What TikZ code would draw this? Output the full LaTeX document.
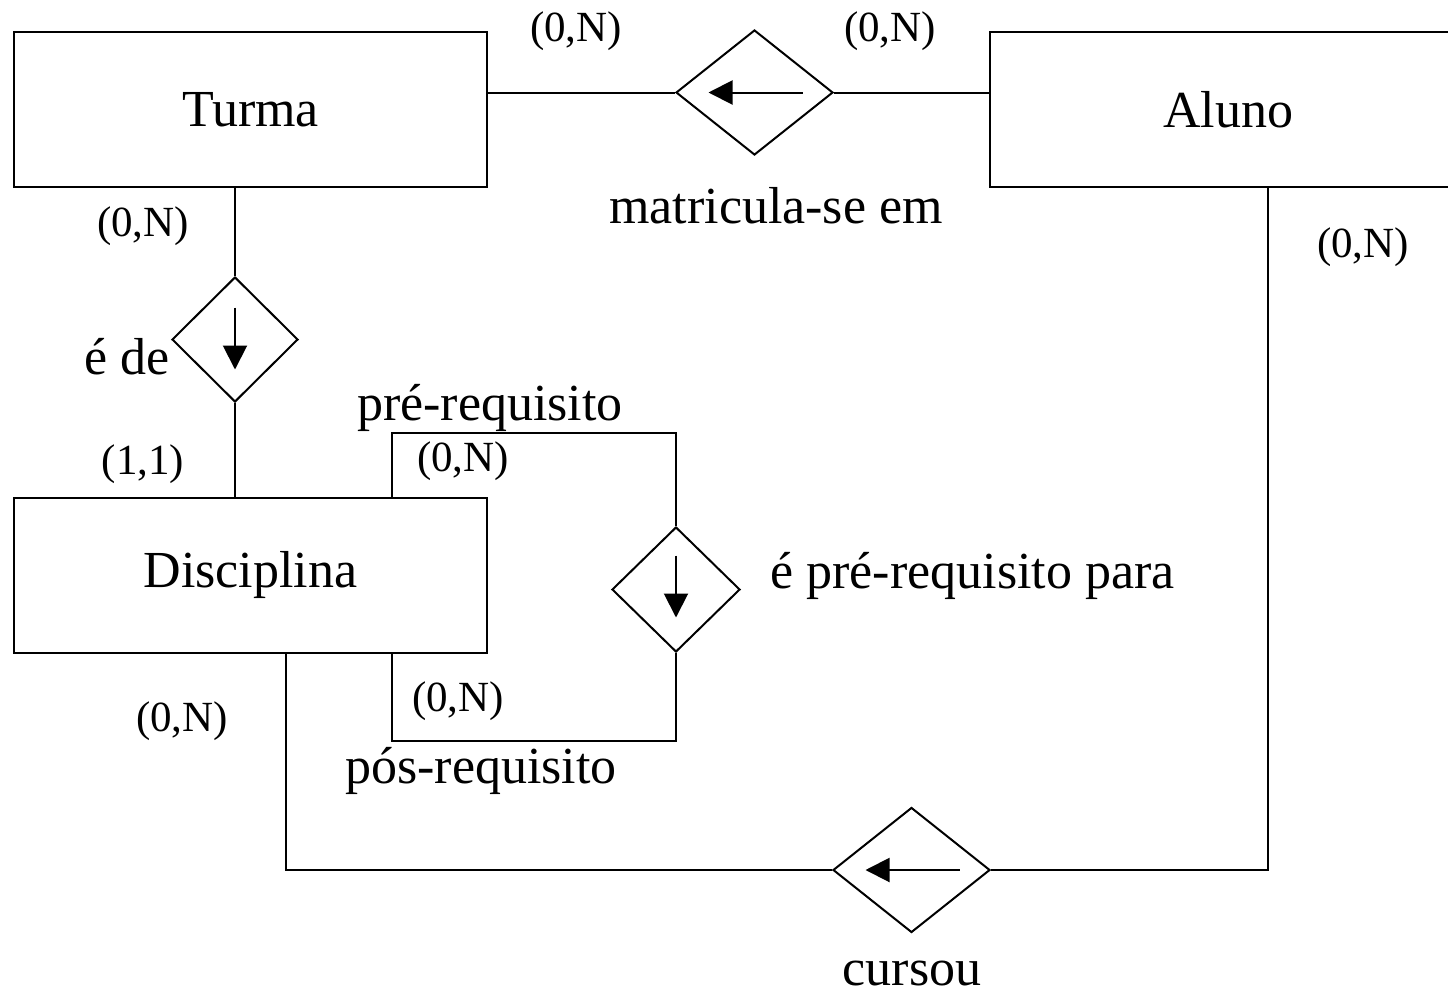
\documentclass[tikz,border=0pt]{standalone}
\usepackage{fontspec}
\setmainfont{Liberation Serif}
\usetikzlibrary{shapes.geometric,arrows.meta}
\begin{document}
\begin{tikzpicture}[x=0.5pt,y=-0.5pt,
  ent/.style={draw,line width=1pt,rectangle,minimum width=236.5pt,minimum height=77.5pt,inner sep=0pt,font=\fontsize{26}{30}\selectfont},
  rel/.style={draw,line width=1pt,diamond,inner sep=0pt},
  conn/.style={line width=1pt},
  inarr/.style={line width=1pt,-{Triangle[length=12pt,width=12pt]}},
  card/.style={font=\fontsize{21.5}{24}\selectfont,inner sep=0pt},
  lbl/.style={font=\fontsize{26}{30}\selectfont,inner sep=0pt}]
\clip (0,0) rectangle (1448,996);
\fill[white] (0,0) rectangle (1448,996);
% entities
\node[ent] (turma) at (250.5,109.5) {Turma};
\node[ent] (disc) at (250.5,575) {Disciplina};
\node[ent,minimum width=238pt] (aluno) at (1228,109.5) {Aluno};
% relationships
\node[rel,minimum width=78.5pt,minimum height=62.5pt] (matr) at (754.5,92.5) {};
\node[rel,minimum width=63pt,minimum height=62.5pt] (ede) at (235,339.5) {};
\node[rel,minimum width=64pt,minimum height=62.5pt] (pre) at (676,589.5) {};
\node[rel,minimum width=78.5pt,minimum height=62.5pt] (cursou) at (911.5,870) {};
% arrows inside diamonds
\draw[inarr] ([xshift=24pt]matr.center) -- ([xshift=-23pt]matr.center);
\draw[inarr] ([yshift=16pt]ede.center) -- ([yshift=-15pt]ede.center);
\draw[inarr] ([yshift=17pt]pre.center) -- ([yshift=-14pt]pre.center);
\draw[inarr] ([xshift=24pt]cursou.center) -- ([xshift=-23pt]cursou.center);
% coordinates
\coordinate (p1) at (392,433);
\coordinate (q1) at (392,741);
\coordinate (cb) at (286,870);
\coordinate (ab) at (1268,870);
% connectors
\draw[conn] (matr.west -| turma.east) -- (matr.west);
\draw[conn] (matr.east) -- (matr.east -| aluno.west);
\draw[conn] (turma.south -| ede.north) -- (ede.north);
\draw[conn] (ede.south) -- (disc.north -| ede.south);
\draw[conn] (disc.north -| p1) -- (p1) -- (pre.north |- p1) -- (pre.north);
\draw[conn] (pre.south) -- (pre.south |- q1) -- (q1) -- (disc.south -| q1);
\draw[conn] (disc.south -| cb) -- (cb) -- (cursou.west);
\draw[conn] (cursou.east) -- (ab) -- (aluno.south -| ab);
% cardinalities
\node[card] (c1) at (576,31) {(0,N)};
\node[card] (c2) at (890,31) {(0,N)};
\node[card] (c3) at (143,226) {(0,N)};
\node[card] (c4) at (143,464) {(1,1)};
\node[card] (c5) at (463,461) {(0,N)};
\node[card] (c6) at (458,701) {(0,N)};
\node[card] (c7) at (182,721) {(0,N)};
\node[card] (c8) at (1363,247) {(0,N)};
% labels
\node[lbl] (l1) at (776,206) {matricula-se em};
\node[lbl,anchor=east] (l2) at (170,357) {é de};
\node[lbl] (l3) at (490,408) {pré-requisito};
\node[lbl,anchor=west] (l4) at (770,576) {é pré-requisito para};
\node[lbl] (l5) at (481,771) {pós-requisito};
\node[lbl] (l6) at (912,973) {cursou};
\end{tikzpicture}
\end{document}
